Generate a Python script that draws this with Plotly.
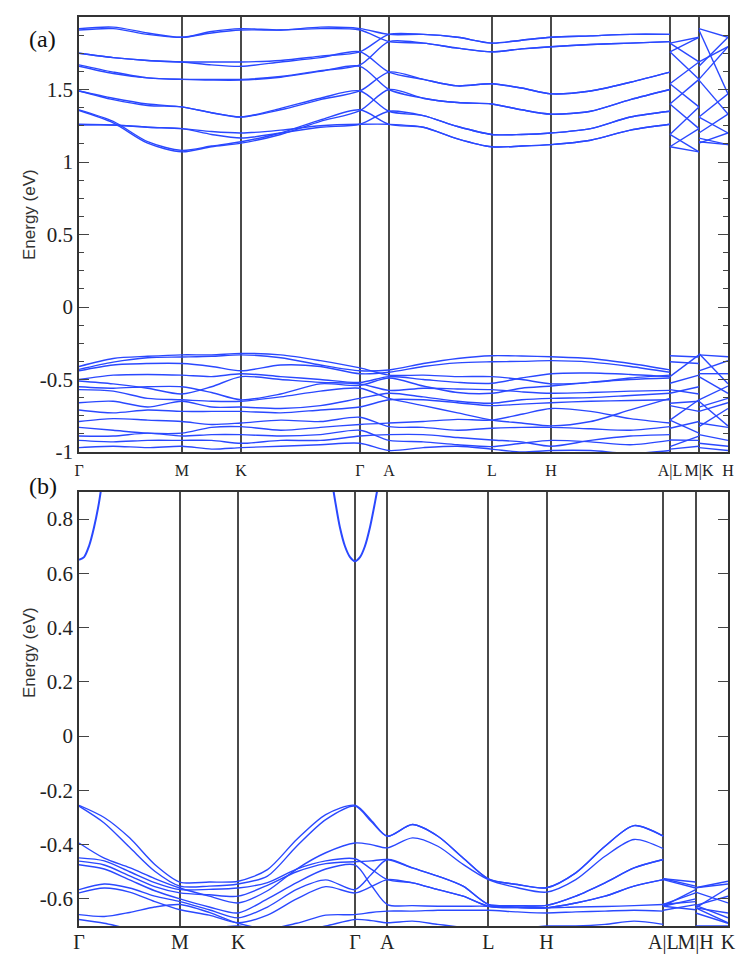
import plotly.graph_objects as go

BLUE = "#2a48ff"
SERIF = "Liberation Serif, Times New Roman, serif"

# ---------------- Panel (a) ----------------
K_A = [0.000, 0.192, 0.385, 0.577, 0.744, 0.910, 1.132, 1.355, 1.577,
       1.740, 1.932, 2.125, 2.317, 2.484, 2.650, 2.872, 3.095, 3.317,
       None, 3.317, 3.480, None, 3.480, 3.643]
TICK_K_A = [0.000, 0.577, 0.910, 1.577, 1.740, 2.317, 2.650, 3.317, 3.480, 3.643]
TICK_LABELS_A = ["Γ", "M", "K", "Γ", "A", "L", "H", "A|L", "M|K", "H"]
YTICKS_A = [-1, -0.5, 0, 0.5, 1, 1.5, 2]
YTICK_LABELS_A = ["-1", "-0.5", "0", "0.5", "1", "1.5", "2"]

COND_A = [
    [1.355, 1.27, 1.13, 1.07, 1.105, 1.13, 1.19, 1.28, 1.355, 1.50, 1.44, 1.41, 1.40, 1.36, 1.33, 1.35, 1.43, 1.50, None, 1.19, 1.07, None, 1.13, 1.20],
    [1.36, 1.28, 1.14, 1.08, 1.11, 1.14, 1.20, 1.29, 1.36, 1.26, 1.24, 1.16, 1.105, 1.11, 1.12, 1.15, 1.22, 1.26, None, 1.105, 1.07, None, 1.14, 1.12],
    [1.255, 1.255, 1.24, 1.23, 1.21, 1.20, 1.22, 1.25, 1.26, 1.26, 1.24, 1.16, 1.105, 1.11, 1.12, 1.15, 1.22, 1.26, None, 1.40, 1.23, None, 1.20, 1.33],
    [1.26, 1.255, 1.24, 1.23, 1.19, 1.165, 1.20, 1.24, 1.26, 1.35, 1.32, 1.245, 1.19, 1.19, 1.20, 1.23, 1.31, 1.35, None, 1.105, 1.23, None, 1.165, 1.12],
    [1.49, 1.43, 1.39, 1.38, 1.34, 1.31, 1.36, 1.43, 1.49, 1.62, 1.57, 1.525, 1.54, 1.51, 1.47, 1.49, 1.55, 1.62, None, 1.54, 1.38, None, 1.31, 1.47],
    [1.49, 1.44, 1.40, 1.38, 1.34, 1.31, 1.37, 1.44, 1.49, 1.35, 1.32, 1.245, 1.19, 1.19, 1.20, 1.23, 1.31, 1.35, None, 1.19, 1.38, None, 1.31, 1.20],
    [1.67, 1.62, 1.58, 1.57, 1.57, 1.57, 1.59, 1.63, 1.67, 1.83, 1.82, 1.785, 1.76, 1.78, 1.795, 1.81, 1.82, 1.83, None, 1.76, 1.57, None, 1.57, 1.795],
    [1.66, 1.61, 1.58, 1.57, 1.565, 1.565, 1.585, 1.625, 1.66, 1.50, 1.44, 1.41, 1.40, 1.36, 1.33, 1.35, 1.43, 1.50, None, 1.40, 1.57, None, 1.565, 1.33],
    [1.75, 1.72, 1.70, 1.69, 1.69, 1.69, 1.70, 1.73, 1.76, 1.88, 1.88, 1.86, 1.82, 1.84, 1.86, 1.87, 1.88, 1.88, None, 1.82, 1.69, None, 1.69, 1.795],
    [1.75, 1.72, 1.70, 1.69, 1.67, 1.66, 1.69, 1.72, 1.76, 1.62, 1.57, 1.525, 1.54, 1.51, 1.47, 1.49, 1.55, 1.62, None, 1.54, 1.69, None, 1.66, 1.86],
    [1.92, 1.93, 1.89, 1.86, 1.90, 1.92, 1.91, 1.93, 1.92, 1.88, 1.88, 1.86, 1.82, 1.84, 1.86, 1.87, 1.88, 1.88, None, 1.82, 1.86, None, 1.92, 1.86],
    [1.91, 1.92, 1.88, 1.86, 1.89, 1.91, 1.91, 1.92, 1.91, 1.83, 1.82, 1.785, 1.76, 1.78, 1.795, 1.81, 1.82, 1.83, None, 1.76, 1.86, None, 1.91, 1.47],
]

VAL_A = [
    [-0.41, -0.355, -0.34, -0.33, -0.33, -0.32, -0.33, -0.37, -0.42, -0.47, -0.47, -0.48, -0.48, -0.50, -0.53, -0.52, -0.49, -0.47, None, -0.48, -0.33, None, -0.32, -0.53],
    [-0.43, -0.38, -0.35, -0.345, -0.34, -0.33, -0.35, -0.40, -0.44, -0.434, -0.39, -0.355, -0.336, -0.338, -0.343, -0.355, -0.39, -0.434, None, -0.336, -0.345, None, -0.33, -0.343],
    [-0.44, -0.40, -0.39, -0.39, -0.41, -0.44, -0.40, -0.41, -0.46, -0.45, -0.41, -0.385, -0.378, -0.375, -0.37, -0.38, -0.41, -0.45, None, -0.378, -0.39, None, -0.44, -0.37],
    [-0.50, -0.47, -0.465, -0.47, -0.48, -0.46, -0.48, -0.50, -0.52, -0.48, -0.50, -0.52, -0.526, -0.49, -0.46, -0.455, -0.465, -0.48, None, -0.526, -0.47, None, -0.46, -0.46],
    [-0.51, -0.53, -0.56, -0.60, -0.55, -0.48, -0.50, -0.52, -0.53, -0.575, -0.56, -0.565, -0.57, -0.585, -0.595, -0.59, -0.58, -0.575, None, -0.57, -0.60, None, -0.48, -0.595],
    [-0.55, -0.56, -0.55, -0.55, -0.59, -0.64, -0.60, -0.53, -0.54, -0.49, -0.545, -0.59, -0.595, -0.56, -0.545, -0.52, -0.50, -0.49, None, -0.595, -0.55, None, -0.64, -0.545],
    [-0.57, -0.58, -0.63, -0.64, -0.65, -0.65, -0.62, -0.58, -0.56, -0.63, -0.68, -0.73, -0.78, -0.80, -0.82, -0.79, -0.71, -0.63, None, -0.78, -0.64, None, -0.65, -0.82],
    [-0.66, -0.65, -0.69, -0.65, -0.69, -0.69, -0.70, -0.68, -0.63, -0.595, -0.62, -0.65, -0.664, -0.64, -0.63, -0.625, -0.61, -0.595, None, -0.664, -0.65, None, -0.69, -0.63],
    [-0.71, -0.73, -0.71, -0.72, -0.72, -0.72, -0.73, -0.71, -0.69, -0.64, -0.64, -0.66, -0.68, -0.67, -0.66, -0.65, -0.645, -0.64, None, -0.68, -0.72, None, -0.72, -0.66],
    [-0.79, -0.77, -0.78, -0.79, -0.81, -0.80, -0.78, -0.79, -0.76, -0.825, -0.83, -0.85, -0.836, -0.83, -0.83, -0.84, -0.85, -0.825, None, -0.836, -0.79, None, -0.80, -0.83],
    [-0.83, -0.85, -0.87, -0.87, -0.83, -0.825, -0.85, -0.83, -0.81, -0.80, -0.79, -0.775, -0.78, -0.74, -0.70, -0.72, -0.77, -0.80, None, -0.78, -0.87, None, -0.825, -0.70],
    [-0.89, -0.89, -0.87, -0.89, -0.88, -0.88, -0.89, -0.88, -0.85, -0.92, -0.93, -0.95, -0.963, -0.94, -0.92, -0.93, -0.95, -0.92, None, -0.963, -0.89, None, -0.88, -0.92],
    [-0.92, -0.93, -0.92, -0.92, -0.92, -0.94, -0.92, -0.92, -0.89, -0.88, -0.88, -0.90, -0.917, -0.93, -0.96, -0.92, -0.89, -0.88, None, -0.917, -0.92, None, -0.94, -0.96],
    [-0.97, -0.96, -0.97, -0.96, -0.98, -0.97, -0.96, -0.95, -0.94, -0.99, -0.97, -0.96, -0.98, -1.00, -0.99, -0.99, -1.01, -0.99, None, -0.98, -0.96, None, -0.97, -0.99],
]

# ---------------- Panel (b) ----------------
K_B = [0.000, 0.144, 0.289, 0.433, 0.577, 0.744, 0.910, 1.077, 1.244, 1.410, 1.577,
       1.670, 1.762, 1.906, 2.051, 2.195, 2.339, 2.506, 2.672, 2.839, 3.006, 3.172, 3.339,
       None, 3.339, 3.524, None, 3.524, 3.709]
TICK_K_B = [0.000, 0.577, 0.910, 1.577, 1.762, 2.339, 2.672, 3.339, 3.524, 3.709]
TICK_LABELS_B = ["Γ", "M", "K", "Γ", "A", "L", "H", "A|L", "M|H", "K"]
YTICKS_B = [-0.6, -0.4, -0.2, 0, 0.2, 0.4, 0.6, 0.8]
YTICK_LABELS_B = ["-0.6", "-0.4", "-0.2", "0", "0.2", "0.4", "0.6", "0.8"]

VAL_B = [
    [-0.255, -0.30, -0.375, -0.473, -0.538, -0.538, -0.535, -0.492, -0.381, -0.289, -0.255, -0.31,
     -0.369, -0.326, -0.369, -0.449, -0.526, -0.547, -0.559, -0.504, -0.406, -0.33, -0.369, None, -0.526, -0.538, None, -0.559, -0.535],
    [-0.258, -0.32, -0.41, -0.498, -0.553, -0.553, -0.545, -0.516, -0.406, -0.308, -0.258, -0.315,
     -0.369, -0.326, -0.369, -0.449, -0.526, -0.547, -0.559, -0.504, -0.406, -0.33, -0.369, None, -0.526, -0.553, None, -0.559, -0.545],
    [-0.394, -0.45, -0.485, -0.525, -0.56, -0.59, -0.615, -0.57, -0.49, -0.43, -0.394, -0.40,
     -0.412, -0.375, -0.406, -0.473, -0.529, -0.559, -0.575, -0.529, -0.443, -0.381, -0.415, None, -0.529, -0.56, None, -0.575, -0.615],
    [-0.449, -0.46, -0.50, -0.54, -0.566, -0.565, -0.56, -0.54, -0.49, -0.46, -0.452, -0.49,
     -0.529, -0.541, -0.566, -0.59, -0.627, -0.632, -0.633, -0.615, -0.59, -0.553, -0.529, None, -0.627, -0.566, None, -0.633, -0.56],
    [-0.461, -0.475, -0.515, -0.555, -0.578, -0.585, -0.59, -0.55, -0.50, -0.47, -0.463, -0.46,
     -0.455, -0.486, -0.516, -0.553, -0.62, -0.625, -0.624, -0.59, -0.541, -0.486, -0.455, None, -0.62, -0.578, None, -0.624, -0.59],
    [-0.474, -0.49, -0.53, -0.57, -0.60, -0.63, -0.652, -0.60, -0.54, -0.49, -0.475, -0.55,
     -0.621, -0.625, -0.627, -0.627, -0.627, -0.63, -0.633, -0.63, -0.628, -0.625, -0.621, None, -0.627, -0.60, None, -0.633, -0.652],
    [-0.566, -0.545, -0.56, -0.59, -0.61, -0.64, -0.67, -0.63, -0.565, -0.53, -0.566, -0.51,
     -0.455, -0.486, -0.516, -0.553, -0.62, -0.625, -0.624, -0.59, -0.541, -0.486, -0.455, None, -0.62, -0.61, None, -0.624, -0.67],
    [-0.578, -0.56, -0.575, -0.61, -0.64, -0.66, -0.688, -0.66, -0.60, -0.555, -0.578, -0.555,
     -0.529, -0.541, -0.566, -0.59, -0.627, -0.632, -0.633, -0.615, -0.59, -0.553, -0.529, None, -0.627, -0.64, None, -0.633, -0.688],
    [-0.658, -0.665, -0.65, -0.63, -0.621, -0.65, -0.69, -0.71, -0.69, -0.66, -0.658, -0.65,
     -0.645, -0.645, -0.642, -0.642, -0.642, -0.648, -0.652, -0.648, -0.645, -0.642, -0.645, None, -0.642, -0.621, None, -0.652, -0.69],
    [-0.676, -0.69, -0.71, -0.72, -0.72, -0.71, -0.70, -0.72, -0.72, -0.70, -0.676, -0.68,
     -0.688, -0.682, -0.694, -0.705, -0.71, -0.71, -0.70, -0.70, -0.694, -0.682, -0.694, None, -0.71, -0.72, None, -0.70, -0.70],
]

# lowest conduction band in (b), sampled near the two Γ points
CB_K_B = [0.000, 0.029, 0.057, 0.086, 0.114, 0.137, None,
          1.440, 1.463, 1.491, 1.520, 1.549, 1.577, 1.606, 1.634, 1.663, 1.691, 1.714]
CB_E_B = [0.65, 0.66, 0.70, 0.77, 0.86, 0.96, None,
          0.96, 0.87, 0.77, 0.70, 0.66, 0.645, 0.66, 0.70, 0.77, 0.86, 0.94]

fig = go.Figure()
line_style = dict(color=BLUE, width=1.4, shape="spline", smoothing=0.8)
for band in COND_A + VAL_A:
    fig.add_trace(go.Scatter(x=K_A, y=band, mode="lines", line=line_style,
                             xaxis="x", yaxis="y", hoverinfo="skip", showlegend=False))
for band in VAL_B:
    fig.add_trace(go.Scatter(x=K_B, y=band, mode="lines", line=line_style,
                             xaxis="x2", yaxis="y2", hoverinfo="skip", showlegend=False))
fig.add_trace(go.Scatter(x=CB_K_B, y=CB_E_B, mode="lines",
                         line=dict(color=BLUE, width=2, shape="spline", smoothing=0.8),
                         xaxis="x2", yaxis="y2", hoverinfo="skip", showlegend=False))

# the page body adds an 8 px offset; layout positions below are given in
# screen pixels of the reference and shifted by that offset
OFF = 8
W, H = 747 - OFF, 954


def px(x):
    return (x - OFF) / W


def py(y):
    return 1 - (y - OFF) / H


xdom = [px(79), px(728)]
common = dict(showline=True, linecolor="#333", linewidth=1.6, zeroline=False, automargin=False)
GRID = dict(showgrid=True, gridcolor="#4a4a4a", gridwidth=1.5, ticks="")

fig.update_layout(
    width=W, height=H,
    margin=dict(l=0, r=0, t=0, b=0, pad=0, autoexpand=False),
    paper_bgcolor="white", plot_bgcolor="white",
    xaxis=dict(domain=xdom, range=[0, TICK_K_A[-1]], anchor="y", mirror=True,
               tickmode="array", tickvals=TICK_K_A, ticktext=TICK_LABELS_A, tickangle=0,
               ticklabelstandoff=3,
               tickfont=dict(family=SERIF, size=16, color="#222"), **GRID, **common),
    yaxis=dict(domain=[py(452), py(17)], range=[-1, 2], anchor="x",
               tickmode="array", tickvals=YTICKS_A, ticktext=YTICK_LABELS_A,
               ticks="inside", ticklen=10, tickwidth=1.3, tickcolor="#444",
               minor=dict(tickmode="linear", tick0=0, dtick=0.125, ticks="inside",
                          ticklen=5, tickwidth=1.2, tickcolor="#444", showgrid=False),
               showgrid=False, mirror="allticks",
               tickfont=dict(family=SERIF, size=21, color="#222"), **common),
    xaxis2=dict(domain=xdom, range=[0, TICK_K_B[-1]], anchor="y2", mirror=True,
                tickmode="array", tickvals=TICK_K_B, ticktext=TICK_LABELS_B, tickangle=0,
                ticklabelstandoff=-3,
                tickfont=dict(family=SERIF, size=20, color="#222"), **GRID, **common),
    yaxis2=dict(domain=[py(926), py(492)], range=[-0.7, 0.9], anchor="x2",
                tickmode="array", tickvals=YTICKS_B, ticktext=YTICK_LABELS_B,
                ticks="inside", ticklen=10, tickwidth=1.3, tickcolor="#444",
                showgrid=False, mirror="allticks",
                tickfont=dict(family=SERIF, size=21, color="#222"), **common),
    annotations=[
        dict(text="(a)", x=px(27), y=py(24), xref="paper", yref="paper",
             showarrow=False, font=dict(family=SERIF, size=24, color="#111")),
        dict(text="(b)", x=px(27), y=py(486), xref="paper", yref="paper",
             showarrow=False, font=dict(family=SERIF, size=24, color="#111")),
        dict(text="Energy (eV)", x=px(18), y=py(167), xref="paper", yref="paper",
             textangle=-90, showarrow=False,
             font=dict(family="Liberation Sans", size=17, color="#333")),
        dict(text="Energy (eV)", x=px(18), y=py(700), xref="paper", yref="paper",
             textangle=-90, showarrow=False,
             font=dict(family="Liberation Sans", size=17, color="#333")),
    ],
)

fig.write_html("out.html")
